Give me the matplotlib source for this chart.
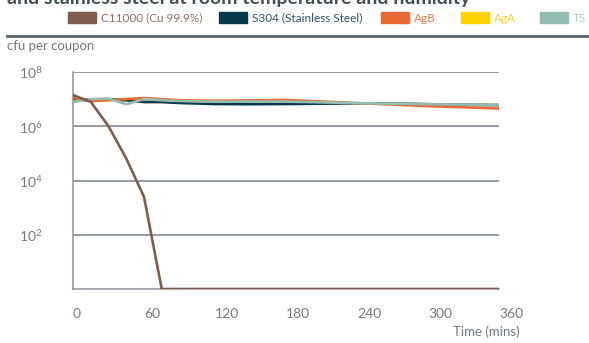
import numpy as np
import matplotlib.pyplot as plt
from matplotlib.patches import Rectangle

plt.rcParams['font.family'] = ['Lato', 'DejaVu Sans']
plt.rcParams['mathtext.fontset'] = 'custom'
plt.rcParams['mathtext.rm'] = 'Lato'

# time in minutes, counts in cfu per coupon
times = [0, 15, 30, 45, 60, 75, 90, 120, 150, 180, 210, 240, 270, 300, 330, 360]
c11000 = [1.4e7, 8e6, 1e6, 6.5e4, 2.5e3, 1, 1, 1, 1, 1, 1, 1, 1, 1, 1, 1]
s304 = [1.0e7, 9.1e6, 1.0e7, 9.1e6, 7.8e6, 7.8e6, 7.2e6, 6.6e6, 6.5e6, 6.6e6, 6.8e6, 7.0e6, 6.8e6, 6.5e6, 6.2e6, 6.0e6]
agb = [1.1e7, 8.5e6, 9.1e6, 1.0e7, 1.1e7, 1.0e7, 9.1e6, 8.7e6, 9.0e6, 9.3e6, 8.2e6, 7.1e6, 6.3e6, 5.5e6, 5.0e6, 4.5e6]
aga = [9.5e6, 9.0e6, 9.5e6, 9.0e6, 8.5e6, 8.0e6, 7.5e6, 7.5e6, 7.5e6, 7.5e6, 7.3e6, 7.0e6, 6.8e6, 6.5e6, 6.3e6, 6.1e6]
ts = [7.8e6, 1.0e7, 1.05e7, 6.5e6, 1.0e7, 9.1e6, 8.5e6, 8.0e6, 8.1e6, 8.1e6, 7.6e6, 7.1e6, 6.8e6, 6.5e6, 6.3e6, 6.2e6]

labels = ['C11000 (Cu 99.9%)', 'S304 (Stainless Steel)', 'AgB', 'AgA', 'TS']
colors = ['#7f5e4f', '#07384a', '#e96a35', '#fdd200', '#94bcb2']
text_colors = ['#8e7266', '#2f5466', '#ec7e4c', '#f9d23a', '#a8cbc2']

yticks = [1e2, 1e4, 1e6, 1e8]
ytick_labels = ['$10^{2}$', '$10^{4}$', '$10^{6}$', '$10^{8}$']
xticks = [0, 60, 120, 180, 240, 300, 360]

grey = '#737b81'
fig = plt.figure(figsize=(5.89, 3.43), dpi=100)
ax = fig.add_axes([73/589, 1 - 289/343, 426/589, 217/343])

series = [aga, s304, agb, ts, c11000]
order = [3, 1, 2, 4, 0]
for data, i in zip(series, order):
    ax.plot(times, data, color=colors[i], lw=1.9, solid_joinstyle='miter', zorder=3 + order.index(i))

ax.set_yscale('log')
ax.set_ylim(1, 1e8)
ax.set_xlim(0, 360)
ax.set_yticks(yticks)
ax.set_yticklabels(ytick_labels)
ax.minorticks_off()
ax.set_xticks(xticks)
ax.set_xticklabels([str(t) for t in xticks], ha='left')
ax.tick_params(length=0, labelsize=10, colors=grey)
ax.tick_params(axis='x', pad=14)
ax.tick_params(axis='y', pad=39)
for lab in ax.get_yticklabels():
    lab.set_ha('left')
ax.grid(axis='y', color='#74808a', lw=1.1)
ax.set_axisbelow(True)
for s in ['top', 'right']:
    ax.spines[s].set_visible(False)
for s in ['left', 'bottom']:
    ax.spines[s].set_color('#8a9298')
    ax.spines[s].set_linewidth(1.1)

fig.text(7/589, 1 - 46/343, 'cfu per coupon', fontsize=9.5, color=grey, va='center')
fig.text(520/589, 1 - 332/343, 'Time (mins)', fontsize=9.5, color=grey, va='center', ha='right')

# cut-off title at the top
fig.text(7/589, 1 - 4/343, 'and stainless steel at room temperature and humidity',
         fontsize=14, fontweight='bold', color='#424e56', va='baseline')

# legend row
patch_x = [68, 219, 381, 461, 540]
for x0, lab, c, tc in zip(patch_x, labels, colors, text_colors):
    fig.patches.append(Rectangle((x0/589, 1 - 23/343), 28/589, 11/343, transform=fig.transFigure,
                                 color=c, zorder=5))
    fig.text((x0 + 33)/589, 1 - 18/343, lab, fontsize=8.5, color=tc, va='center')

fig.add_artist(plt.Line2D([7/589, 1], [1 - 36/343, 1 - 36/343], transform=fig.transFigure,
                          color='#56636b', lw=2))

fig.savefig('out.png', dpi=100)
